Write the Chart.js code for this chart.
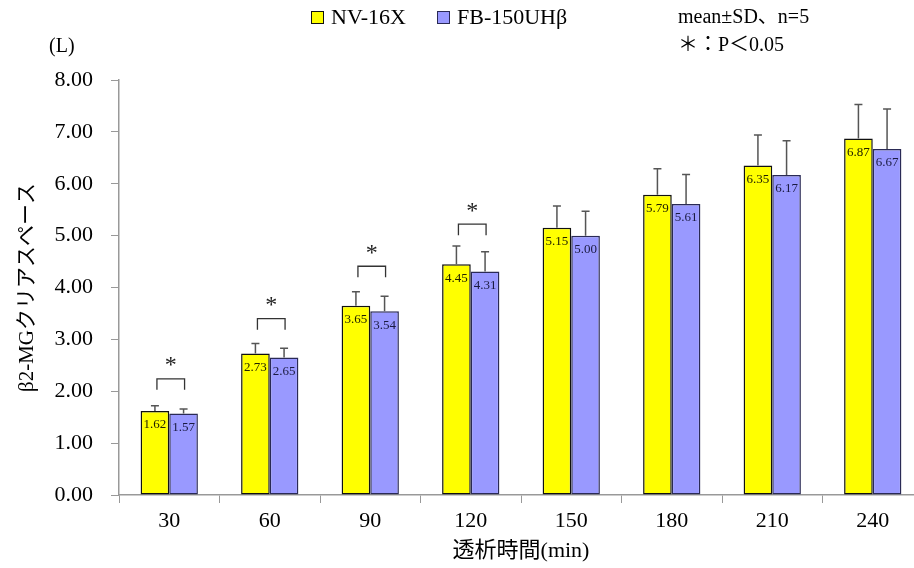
<!DOCTYPE html>
<html>
<head>
<meta charset="utf-8">
<script src="https://cdn.jsdelivr.net/npm/chart.js@4/dist/chart.umd.min.js"></script>
<style>
  html, body { margin: 0; padding: 0; background: #fff; overflow: hidden; }
  #wrap { width: 924px; height: 568px; }
</style>
</head>
<body>
<div id="wrap"><canvas id="c" width="924" height="568"></canvas></div>
<script>
const categories = ['30', '60', '90', '120', '150', '180', '210', '240'];
const nvMeans = [1.62, 2.73, 3.65, 4.45, 5.15, 5.79, 6.35, 6.87];
const fbMeans = [1.57, 2.65, 3.54, 4.31, 5.00, 5.61, 6.17, 6.67];
const nvSD = [0.10, 0.19, 0.27, 0.35, 0.42, 0.50, 0.59, 0.66];
const fbSD = [0.09, 0.18, 0.29, 0.38, 0.47, 0.57, 0.66, 0.77];
// significance brackets: category index and bracket height (L)
const sigIndex = [0, 1, 2, 3];
const sigLevel = [2.24, 3.40, 4.41, 5.22];
const yMin = 0, yMax = 8, yStep = 1;

const serif = "'Liberation Serif', 'Times New Roman', serif";
const jpFont = "'Liberation Serif', 'Noto Sans CJK JP', serif";

const extras = {
  id: 'extras',
  afterDatasetsDraw(chart) {
    const ctx = chart.ctx;
    const y = chart.scales.y;
    ctx.save();
    chart.data.datasets.forEach((ds, di) => {
      const meta = chart.getDatasetMeta(di);
      meta.data.forEach((bar, i) => {
        const top = y.getPixelForValue(ds.data[i] + ds.sd[i]);
        // error bar (upper only)
        ctx.strokeStyle = '#555';
        ctx.lineWidth = 1.5;
        ctx.beginPath();
        ctx.moveTo(bar.x, bar.y);
        ctx.lineTo(bar.x, top);
        ctx.moveTo(bar.x - 4, top);
        ctx.lineTo(bar.x + 4, top);
        ctx.stroke();
        // value label inside bar
        ctx.fillStyle = ds.labelColor;
        ctx.font = '13px ' + serif;
        ctx.textAlign = 'center';
        ctx.textBaseline = 'middle';
        ctx.fillText(ds.data[i].toFixed(2), bar.x, bar.y + 14);
      });
    });
    // significance brackets
    const m0 = chart.getDatasetMeta(0), m1 = chart.getDatasetMeta(1);
    sigIndex.forEach((ci, k) => {
      const x0 = m0.data[ci].x + 2, x1 = m1.data[ci].x + 1;
      const yb = y.getPixelForValue(sigLevel[k]);
      ctx.strokeStyle = '#333';
      ctx.lineWidth = 1.3;
      ctx.beginPath();
      ctx.moveTo(x0, yb + 11);
      ctx.lineTo(x0, yb);
      ctx.lineTo(x1, yb);
      ctx.lineTo(x1, yb + 11);
      ctx.stroke();
      ctx.fillStyle = '#222';
      ctx.font = '24px ' + serif;
      ctx.textAlign = 'center';
      ctx.textBaseline = 'middle';
      ctx.fillText('*', (x0 + x1) / 2, yb - 13);
    });
    ctx.restore();
  },
  afterDraw(chart) {
    const ctx = chart.ctx;
    ctx.save();
    // legend
    const legendX = [311, 437];
    chart.data.datasets.forEach((ds, di) => {
      const lx = legendX[di];
      ctx.fillStyle = ds.backgroundColor;
      ctx.fillRect(lx, 11, 12, 12);
      ctx.strokeStyle = ds.borderColor;
      ctx.lineWidth = 1;
      ctx.strokeRect(lx + 0.5, 11.5, 12, 12);
      ctx.fillStyle = '#000';
      ctx.font = '22px ' + serif;
      ctx.textAlign = 'left';
      ctx.textBaseline = 'middle';
      ctx.fillText(ds.label, lx + 20, 18);
    });
    // notes
    ctx.font = '20px ' + jpFont;
    ctx.fillStyle = '#000';
    ctx.textAlign = 'left';
    ctx.textBaseline = 'middle';
    ctx.fillText('mean±SD、n=5', 678, 18);
    ctx.fillText('＊：P＜0.05', 678, 46);
    // unit
    ctx.font = '20px ' + serif;
    ctx.fillText('(L)', 49, 47);
    ctx.restore();
  }
};

new Chart(document.getElementById('c'), {
  type: 'bar',
  data: {
    labels: categories,
    datasets: [
      {
        label: 'NV-16X',
        data: nvMeans,
        sd: nvSD,
        backgroundColor: '#FFFF00',
        borderColor: '#111111',
        labelColor: '#222200',
        borderWidth: 1.5,
        borderSkipped: false
      },
      {
        label: 'FB-150UHβ',
        data: fbMeans,
        sd: fbSD,
        backgroundColor: '#9999FF',
        borderColor: '#2a2a55',
        labelColor: '#1a1a40',
        borderWidth: 1.5,
        borderSkipped: false
      }
    ]
  },
  options: {
    responsive: false,
    animation: false,
    devicePixelRatio: 1,
    layout: { padding: { top: 80, right: 1, bottom: 0, left: 0 } },
    datasets: { bar: { categoryPercentage: 0.57, barPercentage: 1.0 } },
    plugins: {
      legend: { display: false },
      tooltip: { enabled: false }
    },
    scales: {
      x: {
        afterFit(scale) { scale.height = 73; },
        grid: { drawOnChartArea: false, color: '#999', tickLength: 8, offset: true },
        border: { color: '#999', width: 1.5 },
        ticks: { color: '#000', font: { family: serif, size: 22 }, padding: 5 },
        title: {
          display: true,
          text: '透析時間(min)',
          color: '#000',
          font: { family: jpFont, size: 22 },
          padding: { top: 0, bottom: 4 }
        }
      },
      y: {
        min: yMin,
        max: yMax,
        afterFit(scale) { scale.width = 119; },
        grid: { drawOnChartArea: false, color: '#999', tickLength: 8 },
        border: { color: '#999', width: 1.5 },
        ticks: {
          stepSize: yStep,
          color: '#000',
          font: { family: serif, size: 22 },
          padding: 18,
          callback: v => v.toFixed(2)
        },
        title: {
          display: true,
          text: 'β2-MGクリアスペース',
          color: '#000',
          font: { family: jpFont, size: 21 },
          padding: { top: 15, bottom: 0 }
        }
      }
    }
  },
  plugins: [extras]
});
</script>
</body>
</html>
